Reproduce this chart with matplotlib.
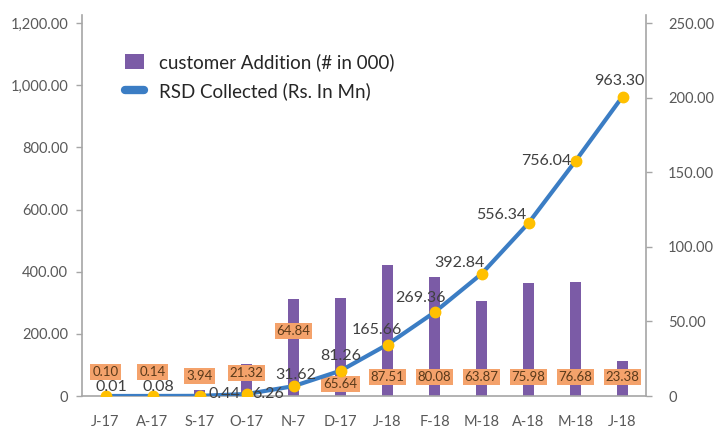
import matplotlib
matplotlib.use("Agg")
import matplotlib.pyplot as plt
from matplotlib.patches import Patch
from matplotlib.lines import Line2D

plt.rcParams['font.family'] = ['Lato', 'DejaVu Sans']

categories = ["J-17", "A-17", "S-17", "O-17", "N-7", "D-17", "J-18", "F-18", "M-18", "A-18", "M-18", "J-18"]
customer_addition = [0.10, 0.14, 3.94, 21.32, 64.84, 65.64, 87.51, 80.08, 63.87, 75.98, 76.68, 23.38]
rsd_collected = [0.01, 0.08, 0.44, 6.26, 31.62, 81.26, 165.66, 269.36, 392.84, 556.34, 756.04, 963.30]
left_ticks = [0, 200, 400, 600, 800, 1000, 1200]
left_ticklabels = ["0", "200.00", "400.00", "600.00", "800.00", "1,000.00", "1,200.00"]
right_ticks = [0, 50, 100, 150, 200, 250]
right_ticklabels = ["0", "50.00", "100.00", "150.00", "200.00", "250.00"]

# label placement offsets (pixels) - styling only
bar_label_dy = [-24, -24, -20, -23, -65, -12, -19, -19, -19, -19, -19, -19]
line_label_off = [(6, 9), (6, 9), (25, 2), (22, 0), (2, 11), (0, 15), (-11, 15),
                  (-14, 14), (-22, 11), (-27, 8), (-29, 0), (-3, 16)]

W, H = 724, 429
fig = plt.figure(figsize=(W / 100, H / 100), dpi=100)
left_px, right_px, bottom_px, top_px = 82, 646, 396, 15.2
ax = fig.add_axes([left_px / W, 1 - bottom_px / H, (right_px - left_px) / W, (bottom_px - top_px) / H])
ax2 = ax.twinx()

ymax_left = 1200 * (bottom_px - top_px) / (396 - 23)
ax.set_ylim(0, ymax_left)
ax2.set_ylim(0, ymax_left / 4.8)
ax.set_xlim(-0.5, len(categories) - 0.5)

x = list(range(len(categories)))
purple = "#7B5BA6"
blue = "#3B7DC4"
gray = "#A6A6A6"
txt = "#595959"

ax2.bar(x, customer_addition, width=0.25, color=purple, zorder=2)
ax.plot(x, rsd_collected, color=blue, lw=3, solid_capstyle='round', zorder=3)
ax.plot(x, rsd_collected, 'o', color="#FFC000", ms=7.5, zorder=4)

ax.set_zorder(ax2.get_zorder() + 1)
ax.patch.set_visible(False)

# axes styling
for a in (ax, ax2):
    a.spines['top'].set_visible(False)
    for s in ('left', 'right', 'bottom'):
        a.spines[s].set_color(gray)
        a.spines[s].set_linewidth(1.2)
ax.spines['right'].set_visible(False)
ax2.spines['left'].set_visible(False)
ax2.spines['bottom'].set_visible(False)

ax.set_yticks(left_ticks)
ax.set_yticklabels(left_ticklabels)
ax2.set_yticks(right_ticks)
ax2.set_yticklabels(right_ticklabels)
ax.tick_params(axis='y', direction='out', length=4, width=1, color=gray, labelcolor=txt, labelsize=10.5, pad=6)
ax2.tick_params(axis='y', direction='out', length=4, width=1, color=gray, labelcolor=txt, labelsize=10.5, pad=12)
ax.set_xticks(x)
ax.set_xticklabels(categories)
ax.tick_params(axis='x', length=0, labelcolor=txt, labelsize=10.5, pad=14)

# line labels
for xi, v, (dx, dy) in zip(x, rsd_collected, line_label_off):
    ax.annotate(f"{v:.2f}", (xi, v), xytext=(dx * 0.72, dy * 0.72), textcoords='offset points',
                ha='center', va='center', fontsize=11.5, color="#404040", zorder=5)

# bar labels
for xi, v, dy in zip(x, customer_addition, bar_label_dy):
    ax2.annotate(f"{v:.2f}", (xi, 0), xytext=(0, -dy * 0.72), textcoords='offset points',
                 ha='center', va='center', fontsize=9.5, color="#5A3A1A",
                 bbox=dict(boxstyle='square,pad=0.15', fc="#F4A26B", ec='none'))

handles = [Patch(facecolor=purple, edgecolor='none'),
           Line2D([0], [0], color=blue, lw=6, solid_capstyle='round')]
leg = fig.legend(handles, ["customer Addition (# in 000)", "RSD Collected (Rs. In Mn)"],
                 loc='upper left', bbox_to_anchor=(108 / W, 1 - 36 / H), frameon=False,
                 fontsize=13.5, handlelength=1.0, handleheight=0.9, handletextpad=0.8,
                 labelspacing=0.6, labelcolor="#262626")

fig.savefig("out.png", dpi=100)
